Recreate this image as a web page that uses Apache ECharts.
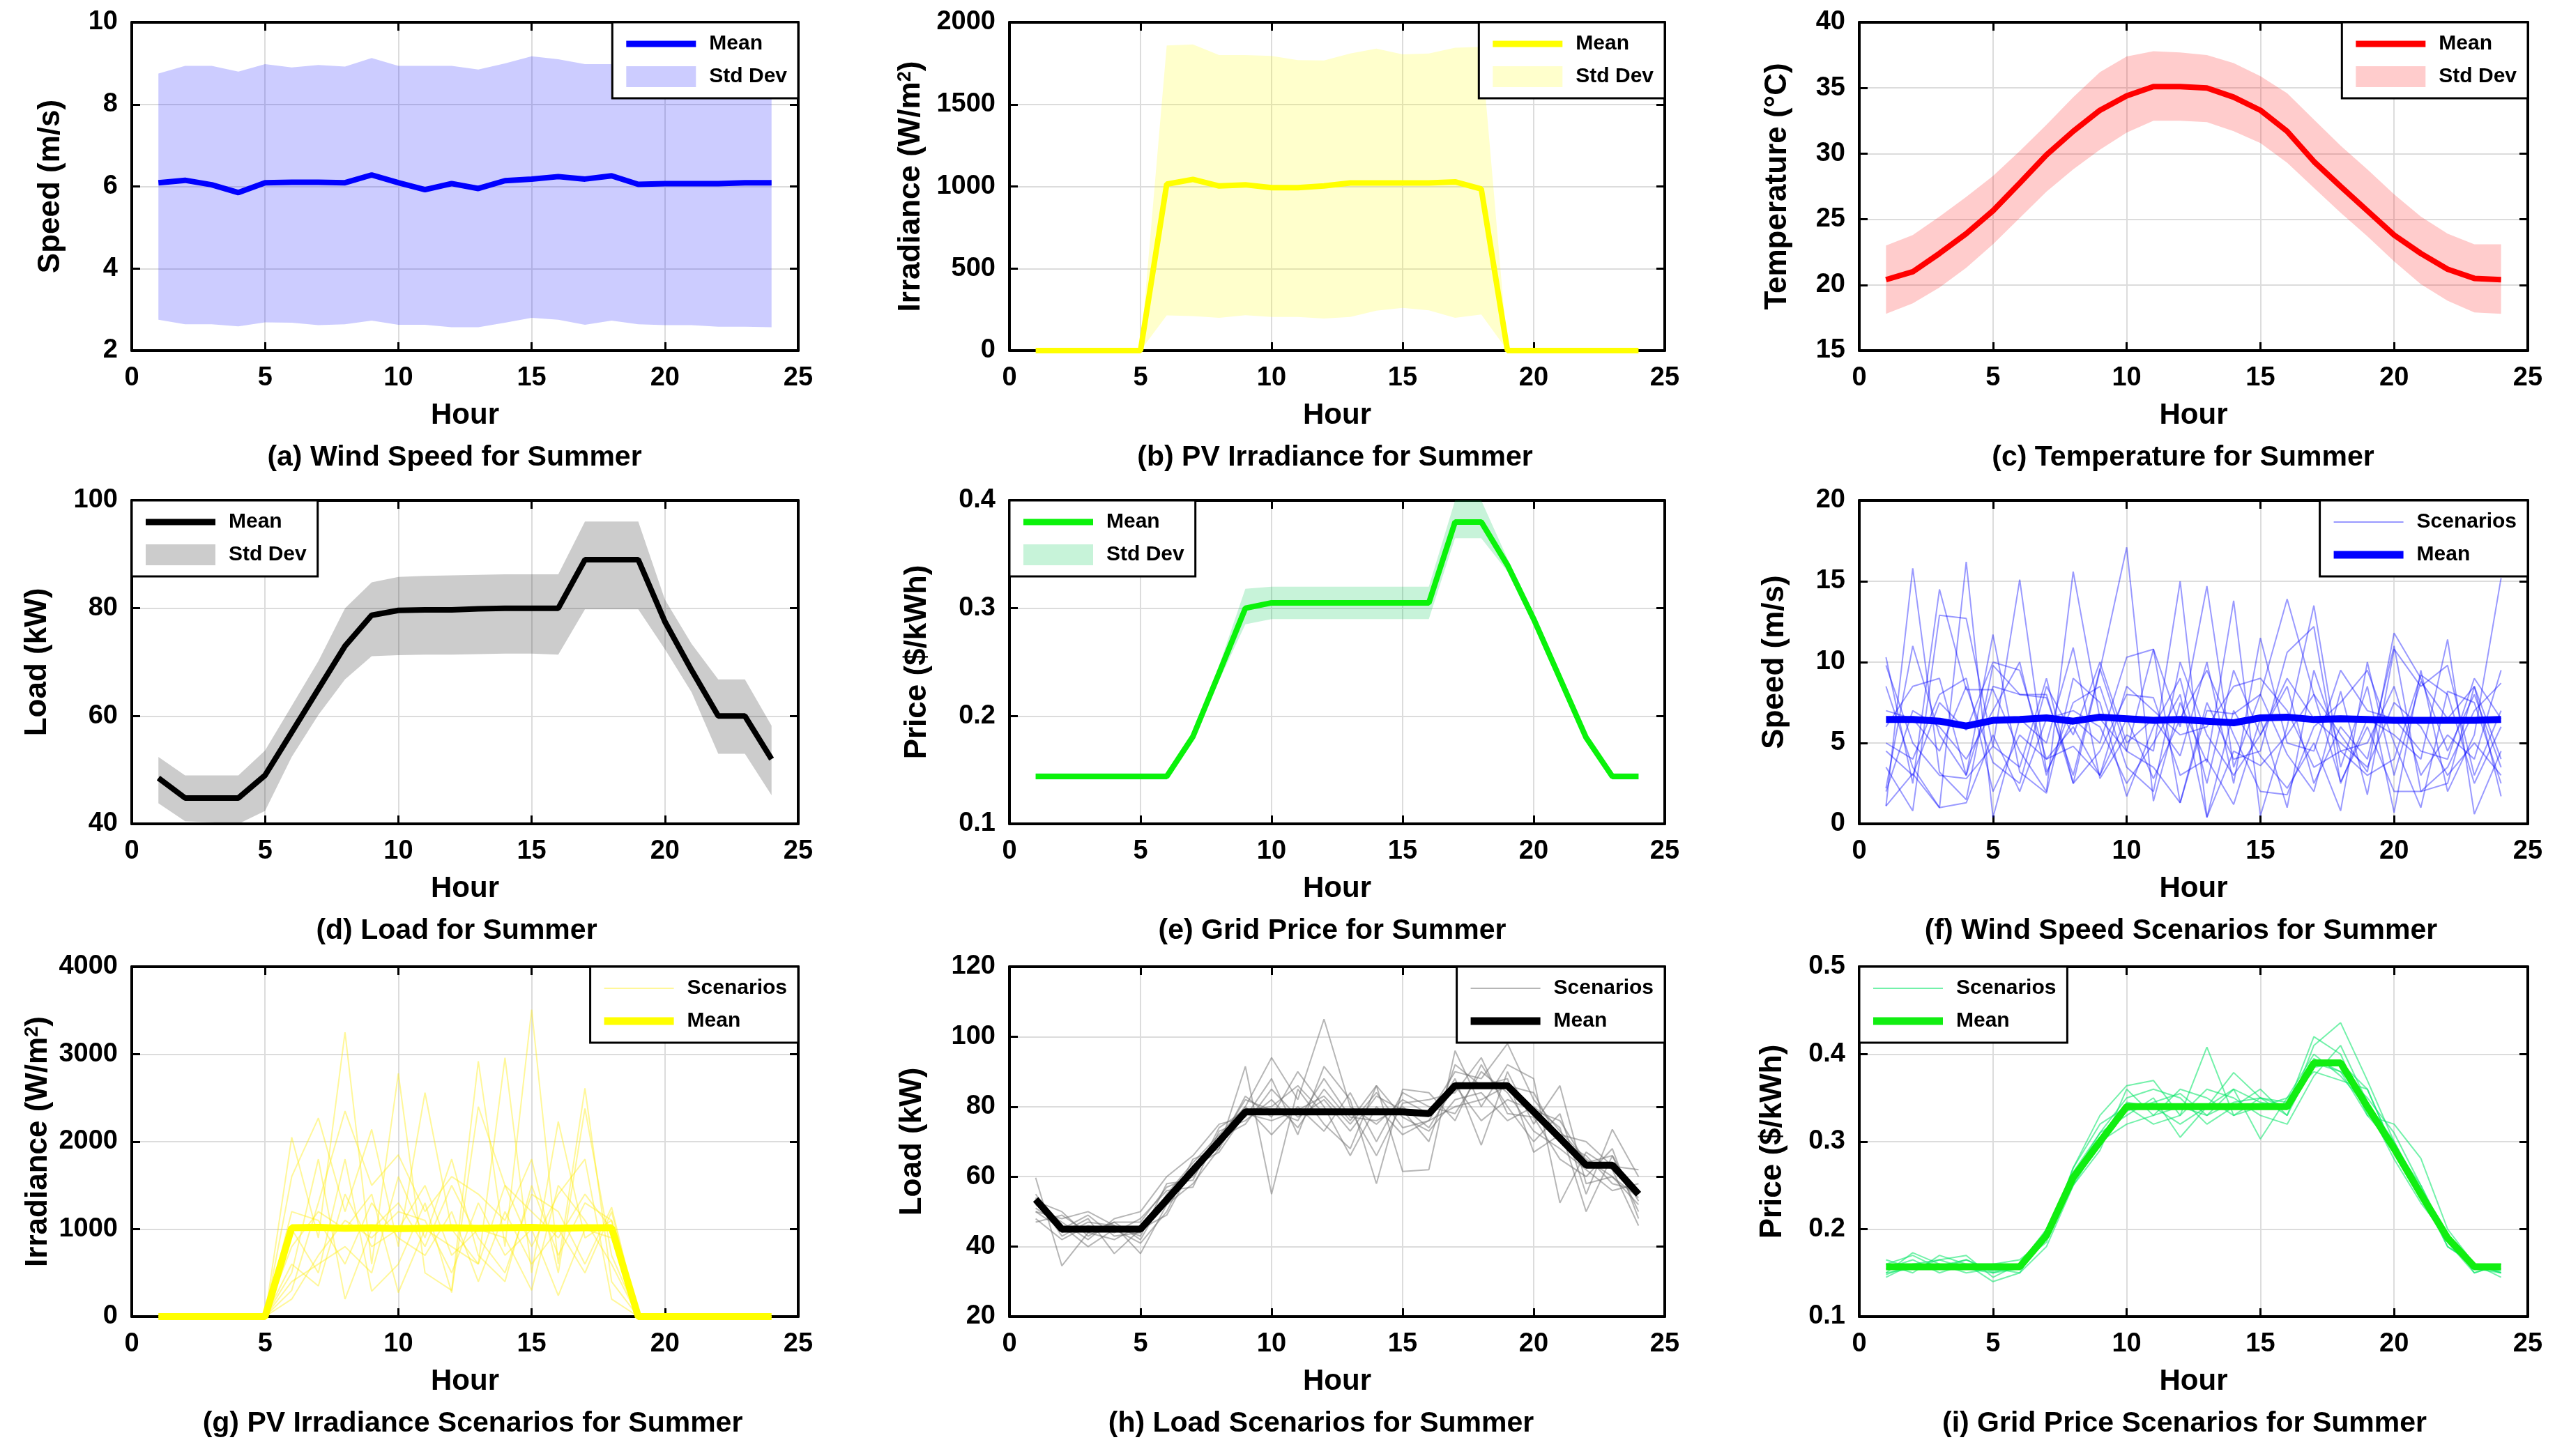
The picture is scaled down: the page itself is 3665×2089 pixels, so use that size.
<!DOCTYPE html>
<html>
<head>
<meta charset="utf-8">
<title>Summer profiles</title>
<script src="https://cdn.jsdelivr.net/npm/echarts@6/dist/echarts.min.js"></script>
<style>
  html, body { margin: 0; padding: 0; background: #fff; }
  #main { width: 3665px; height: 2089px; }
</style>
</head>
<body>
<div id="main"></div>
<script>
const hours = [1, 2, 3, 4, 5, 6, 7, 8, 9, 10, 11, 12, 13, 14, 15, 16, 17, 18, 19, 20, 21, 22, 23, 24];

// (a) wind speed
const windMean = [6.09, 6.15, 6.04, 5.85, 6.09, 6.1, 6.1, 6.09, 6.28, 6.09, 5.92, 6.07, 5.95, 6.14, 6.18, 6.24, 6.18, 6.26, 6.05, 6.07, 6.07, 6.07, 6.09, 6.09];
const windUpper = [8.75, 8.94, 8.94, 8.8, 8.98, 8.9, 8.96, 8.92, 9.13, 8.94, 8.94, 8.94, 8.85, 9.0, 9.17, 9.1, 8.98, 8.98, 8.9, 8.9, 8.9, 8.9, 8.88, 8.86];
const windLower = [2.75, 2.64, 2.64, 2.59, 2.69, 2.68, 2.62, 2.64, 2.73, 2.63, 2.63, 2.57, 2.57, 2.68, 2.8, 2.75, 2.63, 2.73, 2.64, 2.62, 2.62, 2.58, 2.58, 2.57];

// (b) PV irradiance
const pvMean = [0, 0, 0, 0, 0, 1014, 1043, 1003, 1010, 993, 993, 1003, 1021, 1021, 1021, 1021, 1028, 985, 0, 0, 0, 0, 0, 0];
const pvUpper = [0, 0, 0, 0, 0, 1859, 1865, 1800, 1800, 1795, 1770, 1767, 1810, 1840, 1805, 1810, 1845, 1850, 0, 0, 0, 0, 0, 0];
const pvLower = [0, 0, 0, 0, 0, 214, 210, 200, 215, 205, 205, 195, 205, 243, 260, 245, 200, 220, 0, 0, 0, 0, 0, 0];

// (c) temperature
const tempMean = [20.4, 21.0, 22.4, 23.9, 25.65, 27.75, 29.9, 31.7, 33.3, 34.4, 35.1, 35.1, 35.0, 34.3, 33.3, 31.7, 29.4, 27.5, 25.65, 23.8, 22.4, 21.2, 20.5, 20.4];
const tempUpper = [23.0, 23.8, 25.2, 26.7, 28.3, 30.2, 32.2, 34.3, 36.2, 37.4, 37.8, 37.7, 37.5, 36.9, 35.9, 34.6, 32.6, 30.6, 28.8, 26.9, 25.2, 23.9, 23.1, 23.1];
const tempLower = [17.8, 18.6, 19.8, 21.3, 23.1, 25.1, 27.1, 28.8, 30.3, 31.6, 32.5, 32.5, 32.4, 31.7, 30.8, 29.3, 27.4, 25.5, 23.7, 21.8, 20.05, 18.8, 17.9, 17.8];

// (d) load
const loadMean = [48.5, 44.8, 44.8, 44.8, 49, 57, 65, 73, 78.7, 79.6, 79.7, 79.7, 79.9, 80, 80, 80, 89, 89, 89, 77.5, 68.5, 60, 60, 52];
const loadUpper = [52.4, 49, 49, 49, 53.6, 61.9, 70.2, 80, 84.8, 85.8, 86, 86.1, 86.2, 86.3, 86.3, 86.3, 96.1, 96.1, 96.1, 81.6, 73.4, 66.8, 66.8, 58.2];
const loadLower = [43.8, 40.5, 40.3, 40, 42.4, 52.4, 60.2, 66.8, 71.1, 71.3, 71.4, 71.4, 71.5, 71.6, 71.6, 71.4, 79.8, 79.8, 79.8, 72.4, 64.4, 53, 53, 45.3];

// (e) grid price
const priceMean = [0.144, 0.144, 0.144, 0.144, 0.144, 0.144, 0.181, 0.24, 0.30, 0.305, 0.305, 0.305, 0.305, 0.305, 0.305, 0.305, 0.38, 0.38, 0.34, 0.29, 0.235, 0.18, 0.144, 0.144];
const priceUpper = [0.147, 0.147, 0.147, 0.147, 0.147, 0.147, 0.185, 0.247, 0.318, 0.32, 0.32, 0.32, 0.32, 0.32, 0.32, 0.32, 0.40, 0.40, 0.346, 0.296, 0.24, 0.184, 0.147, 0.147];
const priceLower = [0.141, 0.141, 0.141, 0.141, 0.141, 0.141, 0.177, 0.233, 0.285, 0.29, 0.29, 0.29, 0.29, 0.29, 0.29, 0.29, 0.365, 0.365, 0.334, 0.284, 0.23, 0.176, 0.141, 0.141];

// (f) wind speed scenarios
const windScenMean = [6.45, 6.45, 6.35, 6.05, 6.4, 6.45, 6.55, 6.35, 6.6, 6.5, 6.4, 6.45, 6.35, 6.25, 6.55, 6.6, 6.45, 6.5, 6.45, 6.4, 6.4, 6.4, 6.4, 6.45];
const windScen = [
  [10.3, 2.5, 14.5, 8.3, 8.3, 4.5, 2.0, 15.6, 6.5, 4.5, 10.8, 6.0, 14.7, 3.5, 8.0, 13.9, 8.0, 5.5, 3.2, 11.8, 9.0, 4.5, 8.0, 3.5],
  [1.1, 15.8, 3.2, 1.5, 9.8, 8.0, 8.0, 2.5, 9.5, 17.1, 1.4, 7.5, 3.8, 13.8, 0.5, 6.0, 13.5, 3.5, 8.5, 0.7, 9.5, 2.0, 5.5, 15.2],
  [3.5, 0.8, 12.9, 12.7, 4.8, 15.1, 3.2, 6.5, 5.0, 10.3, 10.8, 1.3, 7.5, 4.0, 4.5, 10.6, 12.2, 2.5, 6.5, 5.5, 4.0, 11.4, 0.6, 4.5],
  [8.5, 3.5, 1.0, 16.2, 0.4, 6.5, 5.0, 10.9, 2.8, 5.5, 4.5, 15.0, 0.4, 7.0, 4.2, 2.2, 5.0, 0.8, 10.0, 3.0, 8.8, 6.5, 8.5, 1.7],
  [2.2, 11.0, 5.5, 3.0, 11.7, 3.2, 1.9, 9.0, 7.5, 1.7, 6.0, 9.0, 2.5, 9.5, 5.5, 8.5, 2.5, 6.0, 4.0, 11.0, 2.0, 3.5, 7.0, 8.7],
  [6.0, 8.5, 9.0, 3.0, 8.5, 8.0, 7.8, 3.0, 9.6, 4.5, 3.5, 1.3, 7.0, 6.8, 8.0, 4.3, 2.0, 8.2, 1.8, 10.8, 8.5, 9.8, 3.0, 7.0],
  [9.8, 5.0, 3.0, 2.8, 4.8, 3.5, 9.0, 2.5, 4.5, 8.0, 7.8, 3.0, 4.0, 1.2, 6.5, 1.0, 9.5, 4.5, 3.0, 4.0, 9.2, 8.0, 2.5, 6.0],
  [4.5, 3.0, 7.5, 5.8, 10.0, 9.5, 4.0, 6.0, 3.0, 6.5, 2.8, 6.5, 9.5, 5.5, 2.0, 1.8, 6.0, 7.5, 9.5, 5.0, 1.0, 8.2, 7.5, 2.5],
  [1.1, 3.1, 1.0, 1.3, 5.5, 2.0, 6.5, 7.0, 6.0, 2.5, 5.0, 8.0, 0.4, 4.5, 3.6, 5.5, 8.0, 2.6, 6.0, 2.0, 2.0, 2.5, 8.5, 4.0],
  [7.0, 6.5, 4.5, 8.5, 3.8, 2.5, 8.5, 5.5, 10.0, 5.0, 6.5, 4.2, 10.0, 2.5, 11.5, 5.0, 4.5, 9.5, 7.0, 6.5, 4.5, 4.0, 9.0, 6.5],
  [5.0, 4.0, 8.0, 9.0, 2.0, 5.5, 4.0, 4.8, 3.0, 8.5, 7.0, 5.5, 6.0, 8.5, 9.0, 7.0, 3.5, 4.5, 5.0, 8.5, 3.0, 5.5, 4.0, 9.5],
  [2.0, 7.0, 6.0, 4.0, 7.0, 10.0, 3.0, 7.5, 8.5, 3.5, 2.0, 10.0, 5.5, 3.0, 5.5, 9.0, 6.5, 5.0, 3.5, 7.5, 6.0, 3.0, 5.0, 3.0]
];

// (g) PV irradiance scenarios
const pvScenMean = [0, 0, 0, 0, 0, 1015, 1020, 1010, 1015, 1005, 1010, 1015, 1010, 1015, 1020, 1010, 1015, 1015, 0, 0, 0, 0, 0, 0];
const pvScen = [
  [0, 0, 0, 0, 0, 2050, 900, 3250, 600, 2780, 500, 300, 2920, 800, 3510, 600, 2610, 400, 0, 0, 0, 0, 0, 0],
  [0, 0, 0, 0, 0, 1600, 2270, 1200, 2140, 800, 2560, 1000, 600, 2960, 500, 2230, 900, 1100, 0, 0, 0, 0, 0, 0],
  [0, 0, 0, 0, 0, 300, 1300, 2350, 1500, 1850, 1200, 1600, 1400, 1100, 1800, 500, 2380, 700, 0, 0, 0, 0, 0, 0],
  [0, 0, 0, 0, 0, 500, 1800, 200, 1000, 1300, 800, 1500, 900, 500, 1400, 1200, 600, 1250, 0, 0, 0, 0, 0, 0],
  [0, 0, 0, 0, 0, 1000, 500, 1800, 290, 600, 1300, 275, 2400, 1500, 800, 1400, 1800, 200, 0, 0, 0, 0, 0, 0],
  [0, 0, 0, 0, 0, 800, 1200, 1000, 1400, 275, 1000, 800, 600, 1500, 1200, 900, 1400, 1000, 0, 0, 0, 0, 0, 0],
  [0, 0, 0, 0, 0, 200, 700, 1100, 900, 1200, 1100, 500, 1300, 700, 1000, 240, 1000, 900, 0, 0, 0, 0, 0, 0],
  [0, 0, 0, 0, 0, 1200, 1100, 600, 1300, 900, 700, 1200, 400, 1200, 600, 1000, 500, 1200, 0, 0, 0, 0, 0, 0],
  [0, 0, 0, 0, 0, 400, 600, 800, 500, 1600, 900, 1800, 700, 400, 1500, 700, 1300, 1100, 0, 0, 0, 0, 0, 0],
  [0, 0, 0, 0, 0, 600, 350, 1400, 800, 1000, 1500, 700, 1000, 900, 300, 1500, 1100, 600, 0, 0, 0, 0, 0, 0]
];

// (h) load scenarios
const loadScenMean = [53.5, 45, 45, 45, 45, 53.4, 61.8, 70.1, 78.5, 78.5, 78.5, 78.5, 78.5, 78.5, 78.5, 78, 86, 86, 86, 78.5, 71, 63.3, 63.3, 55];
const loadScen = [
  [59.7, 34.5, 44, 47, 42, 55, 64, 72, 80, 94, 82, 105, 80, 75, 82, 78, 90, 88, 98, 82, 73, 65, 60, 52],
  [50, 48, 50, 46, 38, 52, 58, 68, 91.5, 55, 85, 75, 68, 86, 61.5, 62, 96, 80, 92, 88, 52.5, 67, 62, 46],
  [52, 47, 42, 48, 50, 60, 66, 75, 77, 88, 72, 91.5, 82, 58, 85, 84, 76, 92, 80, 70, 78, 55, 73.5, 60],
  [55, 44, 48, 38, 45, 49, 63, 69, 83, 77, 90, 80, 66, 80, 72, 76, 88, 69, 90, 75, 86, 58, 60, 54],
  [48, 42, 46, 44, 48, 56, 57, 73, 76, 82, 74, 85, 76, 86, 77, 73, 82, 84, 76, 80, 74, 50, 66, 50],
  [51, 46, 40, 45, 41, 50, 65, 68, 80, 72, 80, 73, 84, 70, 84, 80, 78, 90, 84, 73, 68, 62, 56, 58],
  [47, 49, 44, 42, 46, 54, 61, 71, 75, 85, 77, 82, 73, 83, 79, 70, 92, 86, 88, 67, 72, 70, 63, 62],
  [54, 43, 47, 46, 43, 58, 59, 74, 79, 80, 86, 78, 79, 66, 81, 82, 84, 94, 78, 77, 65, 60, 68, 48],
  [50, 45, 49, 43, 44, 52, 63, 67, 78, 76, 79, 83, 75, 84, 74, 76, 80, 82, 86, 84, 70, 66, 58, 56],
  [53, 50, 43, 47, 47, 57, 60, 70, 82, 79, 76, 88, 77, 76, 80, 74, 86, 76, 82, 79, 76, 64, 66, 53]
];

// (i) grid price scenarios
const priceScenMean = [0.157, 0.157, 0.157, 0.157, 0.157, 0.157, 0.193, 0.259, 0.30, 0.34, 0.34, 0.34, 0.34, 0.34, 0.34, 0.34, 0.39, 0.39, 0.34, 0.292, 0.24, 0.19, 0.157, 0.157];
const priceScen = [
  [0.15, 0.173, 0.16, 0.155, 0.15, 0.155, 0.19, 0.27, 0.33, 0.364, 0.37, 0.33, 0.408, 0.33, 0.35, 0.33, 0.41, 0.436, 0.37, 0.30, 0.24, 0.19, 0.155, 0.15],
  [0.145, 0.16, 0.165, 0.17, 0.145, 0.16, 0.2, 0.26, 0.31, 0.33, 0.35, 0.305, 0.34, 0.379, 0.35, 0.34, 0.42, 0.40, 0.33, 0.32, 0.281, 0.2, 0.16, 0.15],
  [0.16, 0.15, 0.17, 0.16, 0.14, 0.15, 0.18, 0.25, 0.29, 0.36, 0.33, 0.34, 0.33, 0.36, 0.303, 0.35, 0.38, 0.37, 0.36, 0.29, 0.24, 0.18, 0.16, 0.145],
  [0.155, 0.165, 0.15, 0.16, 0.16, 0.165, 0.19, 0.265, 0.31, 0.35, 0.36, 0.35, 0.32, 0.34, 0.36, 0.33, 0.39, 0.38, 0.35, 0.31, 0.25, 0.185, 0.15, 0.16],
  [0.15, 0.155, 0.16, 0.15, 0.155, 0.15, 0.2, 0.255, 0.3, 0.32, 0.33, 0.36, 0.35, 0.33, 0.34, 0.35, 0.40, 0.375, 0.34, 0.28, 0.23, 0.19, 0.155, 0.155],
  [0.16, 0.17, 0.155, 0.165, 0.15, 0.16, 0.185, 0.27, 0.32, 0.34, 0.32, 0.33, 0.36, 0.35, 0.33, 0.32, 0.375, 0.41, 0.345, 0.3, 0.245, 0.18, 0.16, 0.15],
  [0.165, 0.155, 0.165, 0.155, 0.16, 0.155, 0.19, 0.25, 0.3, 0.345, 0.34, 0.32, 0.34, 0.36, 0.345, 0.34, 0.385, 0.39, 0.36, 0.29, 0.235, 0.195, 0.15, 0.16],
  [0.148, 0.16, 0.158, 0.165, 0.152, 0.158, 0.195, 0.26, 0.305, 0.335, 0.345, 0.355, 0.33, 0.345, 0.35, 0.345, 0.395, 0.38, 0.33, 0.295, 0.25, 0.19, 0.158, 0.152]
];

const W = 3665;
const FONT = '"Liberation Sans", Arial, sans-serif';
const cols = [[189, 956], [1448, 940], [2667, 959]];
const rows = [[32, 471], [718, 464], [1387, 502]];

const panels = [
  { id: 'a', title: '(a) Wind Speed for Summer', yName: 'Speed (m/s)', y: [2, 10, 2], gap: 94, dx: -15,
    mean: windMean, upper: windUpper, lower: windLower, color: '#0000ff', fill: 'rgba(0,0,255,0.2)', side: 'right' },
  { id: 'b', title: '(b) PV Irradiance for Summer', yName: 'Irradiance (W/m{sup|2})', y: [0, 2000, 500], gap: 119, dx: -3,
    mean: pvMean, upper: pvUpper, lower: pvLower, color: '#ffff00', fill: 'rgba(255,255,0,0.2)', side: 'right' },
  { id: 'c', title: '(c) Temperature for Summer', yName: 'Temperature (°C)', y: [15, 40, 5], gap: 95, dx: -15,
    mean: tempMean, upper: tempUpper, lower: tempLower, color: '#ff0000', fill: 'rgba(255,0,0,0.2)', side: 'right' },
  { id: 'd', title: '(d) Load for Summer', yName: 'Load (kW)', y: [40, 100, 20], gap: 113, dx: -12,
    mean: loadMean, upper: loadUpper, lower: loadLower, color: '#000000', fill: 'rgba(0,0,0,0.2)', side: 'left' },
  { id: 'e', title: '(e) Grid Price for Summer', yName: 'Price ($/kWh)', y: [0.1, 0.4, 0.1], gap: 110, dx: -7,
    mean: priceMean, upper: priceUpper, lower: priceLower, color: '#0af20a', fill: 'rgba(0,200,80,0.22)', side: 'left' },
  { id: 'f', title: '(f) Wind Speed Scenarios for Summer', yName: 'Speed (m/s)', y: [0, 20, 5], gap: 99, dx: -18,
    mean: windScenMean, scen: windScen, color: '#0000ff', thin: 'rgba(0,0,255,0.4)', side: 'right' },
  { id: 'g', title: '(g) PV Irradiance Scenarios for Summer', yName: 'Irradiance (W/m{sup|2})', y: [0, 4000, 1000], gap: 112, dx: 11,
    mean: pvScenMean, scen: pvScen, color: '#ffff00', thin: 'rgba(255,235,0,0.4)', side: 'right' },
  { id: 'h', title: '(h) Load Scenarios for Summer', yName: 'Load (kW)', y: [20, 120, 20], gap: 117, dx: -23,
    mean: loadScenMean, scen: loadScen, color: '#000000', thin: 'rgba(110,110,110,0.5)', side: 'right' },
  { id: 'i', title: '(i) Grid Price Scenarios for Summer', yName: 'Price ($/kWh)', y: [0.1, 0.5, 0.1], gap: 102, dx: -13,
    mean: priceScenMean, scen: priceScen, color: '#11ee11', thin: 'rgba(0,230,100,0.55)', side: 'left' }
];

const xy = (vals) => hours.map((h, k) => [h, vals[k]]);

const tickStyle = { show: true, inside: true, length: 12, lineStyle: { color: '#000', width: 3 } };
const lineStyleBox = { show: true, onZero: false, lineStyle: { color: '#000', width: 4 } };
const labelStyle = { color: '#000', fontSize: 38, fontWeight: 'bold', fontFamily: FONT };

const option = {
  animation: false,
  backgroundColor: '#fff',
  grid: [], xAxis: [], yAxis: [], series: [], legend: [], title: []
};

panels.forEach((p, i) => {
  const [left, width] = cols[i % 3];
  const [top, height] = rows[Math.floor(i / 3)];
  const ax = 2 * i;

  option.grid.push({ left: left, top: top, width: width, height: height, outerBoundsMode: 'none' });

  option.xAxis.push({
    gridIndex: i, type: 'value', min: 0, max: 25, interval: 5,
    name: 'Hour', nameLocation: 'middle', nameGap: 72,
    nameTextStyle: { color: '#000', fontSize: 42, fontWeight: 'bold', fontFamily: FONT },
    axisLine: lineStyleBox, axisTick: tickStyle,
    axisLabel: Object.assign({ margin: 21 }, labelStyle),
    splitLine: { show: true, lineStyle: { color: '#dcdcdc', width: 2 } }
  });
  option.xAxis.push({
    gridIndex: i, type: 'value', position: 'top', min: 0, max: 25, interval: 5,
    axisLine: lineStyleBox, axisTick: tickStyle, axisLabel: { show: false }, splitLine: { show: false }
  });

  const [ymin, ymax, ystep] = p.y;
  option.yAxis.push({
    gridIndex: i, type: 'value', min: ymin, max: ymax, interval: ystep,
    name: p.yName, nameLocation: 'middle', nameGap: p.gap,
    nameTextStyle: {
      color: '#000', fontSize: 44, fontWeight: 'bold', fontFamily: FONT,
      rich: { sup: { fontSize: 27, fontWeight: 'bold', fontFamily: FONT, color: '#000', verticalAlign: 'top' } }
    },
    axisLine: lineStyleBox, axisTick: tickStyle,
    axisLabel: Object.assign({ margin: 20, formatter: ystep < 1 ? (v) => v.toFixed(1) : (v) => String(v) }, labelStyle),
    splitLine: { show: true, lineStyle: { color: '#dcdcdc', width: 2 } }
  });
  option.yAxis.push({
    gridIndex: i, type: 'value', position: 'right', min: ymin, max: ymax, interval: ystep,
    axisLine: lineStyleBox, axisTick: tickStyle, axisLabel: { show: false }, splitLine: { show: false }
  });

  let legendData;
  if (p.upper) {
    // std dev band: one polygon through the upper points and back along the lower ones
    option.series.push({
      type: 'custom', name: 'Std Dev#' + p.id, xAxisIndex: ax, yAxisIndex: ax,
      data: hours.map((h, k) => [h, p.lower[k], p.upper[k]]),
      encode: { x: 0, y: [1, 2] },
      itemStyle: { color: p.fill }, silent: true,
      renderItem: (params, api) => {
        if (params.dataIndex !== 0) return null;
        const upperPts = hours.map((h, k) => api.coord([h, p.upper[k]]));
        const lowerPts = hours.map((h, k) => api.coord([h, p.lower[k]])).reverse();
        return { type: 'polygon', shape: { points: upperPts.concat(lowerPts) }, style: { fill: p.fill } };
      }
    });
    option.series.push({
      type: 'line', name: 'Mean#' + p.id, xAxisIndex: ax, yAxisIndex: ax, data: xy(p.mean),
      symbol: 'none', color: p.color, lineStyle: { color: p.color, width: 8 }
    });
    legendData = [
      { name: 'Mean#' + p.id, icon: 'path://M0,0H100V9H0Z', itemStyle: { color: p.color } },
      { name: 'Std Dev#' + p.id, icon: 'rect', itemStyle: { color: p.fill } }
    ];
  } else {
    p.scen.forEach((s) => {
      option.series.push({
        type: 'line', name: 'Scenarios#' + p.id, xAxisIndex: ax, yAxisIndex: ax, data: xy(s),
        symbol: 'none', color: p.thin, lineStyle: { color: p.thin, width: 2 }, silent: true
      });
    });
    option.series.push({
      type: 'line', name: 'Mean#' + p.id, xAxisIndex: ax, yAxisIndex: ax, data: xy(p.mean),
      symbol: 'none', color: p.color, lineStyle: { color: p.color, width: 10 }
    });
    legendData = [
      { name: 'Scenarios#' + p.id, icon: 'path://M0,0H100V2H0Z', itemStyle: { color: p.thin } },
      { name: 'Mean#' + p.id, icon: 'path://M0,0H100V11H0Z', itemStyle: { color: p.color } }
    ];
  }

  const legend = {
    orient: 'vertical', top: top, itemWidth: 100, itemHeight: 30, itemGap: 17,
    padding: [16, 16, 16, 20], backgroundColor: '#fff', borderColor: '#000', borderWidth: 3,
    itemStyle: { borderWidth: 0 }, selectedMode: false,
    textStyle: { color: '#000', fontSize: 30, fontWeight: 'bold', fontFamily: FONT, padding: [0, 0, 0, 14] },
    formatter: (name) => name.split('#')[0],
    data: legendData
  };
  if (p.side === 'right') legend.right = W - (left + width);
  else legend.left = left;
  option.legend.push(legend);

  option.title.push({
    text: p.title, left: left + width / 2 + p.dx, top: top + height + 133, textAlign: 'center', padding: 0,
    textStyle: { color: '#000', fontSize: 41, fontWeight: 'bold', fontFamily: FONT }
  });
});

const myChart = echarts.init(document.getElementById('main'));
myChart.setOption(option);
</script>
</body>
</html>
